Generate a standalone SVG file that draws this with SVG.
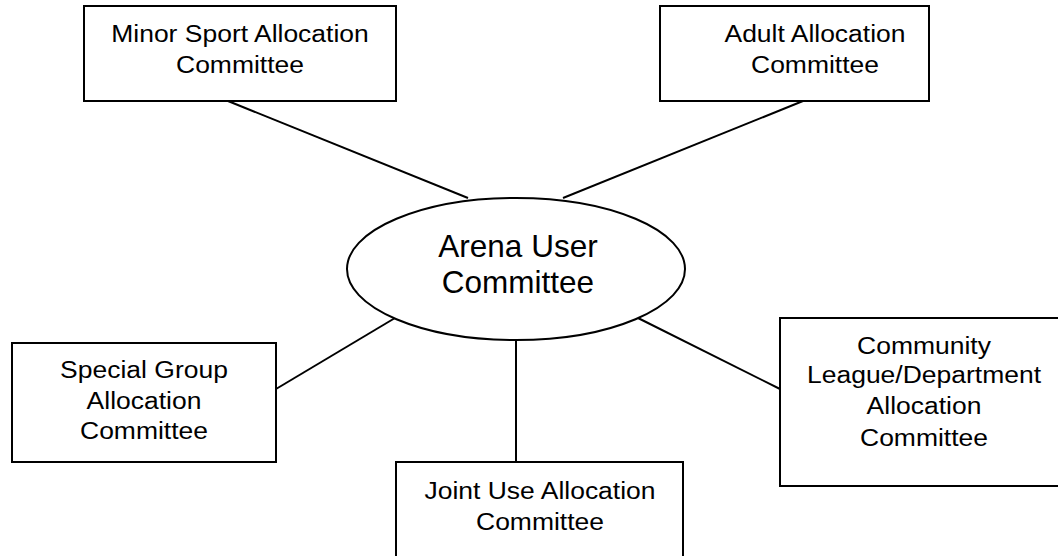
<svg xmlns="http://www.w3.org/2000/svg" width="1058" height="556" viewBox="0 0 1058 556">
<style>
.box{fill:#fff;stroke:#000;stroke-width:2}
.conn{stroke:#000;stroke-width:2;fill:none}
.t{font-family:"Liberation Sans",Arial,sans-serif;font-size:24.3px;fill:#000;text-anchor:middle}
.tc{font-family:"Liberation Sans",Arial,sans-serif;font-size:31.5px;fill:#000;text-anchor:middle}
</style>
<rect width="1058" height="556" fill="#fff"/>
<g id="connectors">
<line class="conn" x1="228" y1="101" x2="468" y2="198"/>
<line class="conn" x1="803" y1="101" x2="563" y2="198"/>
<line class="conn" x1="276" y1="389" x2="395" y2="318"/>
<line class="conn" x1="780" y1="389" x2="638" y2="318"/>
<line class="conn" x1="516" y1="340" x2="516" y2="462"/>
</g>
<g id="minor-sport">
<rect class="box" x="84" y="6" width="312" height="95"/>
<text class="t" transform="translate(240 42) scale(1.09 1)">Minor Sport Allocation</text>
<text class="t" transform="translate(240 73) scale(1.09 1)">Committee</text>
</g>
<g id="adult">
<rect class="box" x="660" y="6" width="269" height="95"/>
<text class="t" transform="translate(815 42) scale(1.09 1)">Adult Allocation</text>
<text class="t" transform="translate(815 73) scale(1.09 1)">Committee</text>
</g>
<g id="arena">
<ellipse class="box" cx="516" cy="269" rx="169" ry="71"/>
<text class="tc" x="518" y="257">Arena User</text>
<text class="tc" x="518" y="293">Committee</text>
</g>
<g id="special-group">
<rect class="box" x="12" y="343" width="264" height="119"/>
<text class="t" transform="translate(144 378) scale(1.09 1)">Special Group</text>
<text class="t" transform="translate(144 409) scale(1.09 1)">Allocation</text>
<text class="t" transform="translate(144 439) scale(1.09 1)">Committee</text>
</g>
<g id="community-league">
<rect class="box" x="780" y="318" width="282" height="168"/>
<text class="t" transform="translate(924 354) scale(1.09 1)">Community</text>
<text class="t" transform="translate(924 383) scale(1.09 1)">League/Department</text>
<text class="t" transform="translate(924 414) scale(1.09 1)">Allocation</text>
<text class="t" transform="translate(924 446) scale(1.09 1)">Committee</text>
</g>
<g id="joint-use">
<rect class="box" x="396" y="462" width="287" height="100"/>
<text class="t" transform="translate(540 499) scale(1.09 1)">Joint Use Allocation</text>
<text class="t" transform="translate(540 530) scale(1.09 1)">Committee</text>
</g>
</svg>
